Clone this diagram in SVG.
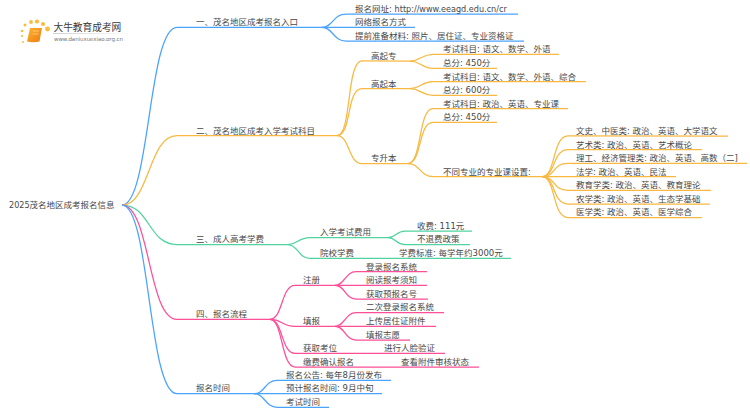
<svg xmlns="http://www.w3.org/2000/svg" width="750" height="410" viewBox="0 0 750 410">
<defs>
<linearGradient id="fade" x1="0" x2="1" y1="0" y2="0"><stop offset="0" stop-color="#cfcfcf"/><stop offset="1" stop-color="#ffffff"/></linearGradient>
<linearGradient id="book" x1="0" x2="1" y1="0" y2="1"><stop offset="0" stop-color="#fdb62f"/><stop offset="1" stop-color="#ec7a12"/></linearGradient>
</defs>
<style>
text{font-family:"DejaVu Sans","Noto Sans CJK SC",sans-serif;font-size:8.5px;fill:#484848}
tspan{font-size:8.1px}
path{fill:none;stroke-width:1.25}
.b{stroke:#4aa3ff}.o{stroke:#f9b840}.g{stroke:#4fd3a0}.p{stroke:#ff4f97}
.dot{fill:#fbbb3c}
</style>
<rect width="750" height="410" fill="#fff"/>
<g id="logo">
<circle class="dot" cx="22" cy="31" r="1.300"/><circle class="dot" cx="22" cy="36" r="1.100"/><circle class="dot" cx="23" cy="42" r="1"/>
<circle class="dot" cx="25" cy="25" r="1.500"/><circle class="dot" cx="31" cy="22" r="1.900"/><circle class="dot" cx="37" cy="21.500" r="2.100"/><circle class="dot" cx="43" cy="24" r="2.100"/><circle class="dot" cx="47.500" cy="29" r="2.400"/>
<path d="M30 28H42L39.500 41.500Q33 43 27 41.500Z" style="fill:url(#book);stroke:none"/>
<path d="M33 31H39M32.500 34H38.500" style="stroke:#ffe3a8;stroke-width:.6"/>
<rect x="53" y="33" width="80" height="1" fill="url(#fade)"/>
<text x="53.500" y="30.500" style="font-size:9.700px;fill:#3a3a3a">大牛教育成考网</text>
<text x="54" y="41" style="font-size:5.500px;fill:#777" textLength="69">www.daniuxuexiao.org.cn</text>
</g>
<g id="connectors">
<path class="b" d="M122 205C150 205 148 27.300 177 27.300H322"/>
<path class="b" d="M322 27.300C333 27.300 333 14 346 14H518"/>
<path class="b" d="M322 27.300H415"/>
<path class="b" d="M322 27.300C333 27.300 333 41 346 41H524"/>
<path class="o" d="M122 205C150 205 148 135.700 177 135.700H337"/>
<path class="o" d="M337 135.700C352 135.700 346 61 362 61H410"/>
<path class="o" d="M337 135.700C352 135.700 346 88.700 362 88.700H410"/>
<path class="o" d="M337 135.700C350 135.700 348 163.500 362 163.500H408"/>
<path class="o" d="M410 61C421 61 421 54.300 433 54.300H559"/>
<path class="o" d="M410 61C421 61 421 68.300 433 68.300H497"/>
<path class="o" d="M410 88.700C421 88.700 421 81.700 433 81.700H586"/>
<path class="o" d="M410 88.700C421 88.700 421 95.300 433 95.300H497"/>
<path class="o" d="M408 163.500C422 163.500 418 108.700 433 108.700H568"/>
<path class="o" d="M408 163.500C422 163.500 418 122.300 433 122.300H497"/>
<path class="o" d="M408 163.500C420 163.500 420 176.700 433 176.700H542"/>
<path class="o" d="M542 176.700C556 176.700 552 136 568 136H728"/>
<path class="o" d="M542 176.700C556 176.700 552 149.700 568 149.700H702"/>
<path class="o" d="M542 176.700C556 176.700 552 163.300 568 163.300H747"/>
<path class="o" d="M542 176.700H676"/>
<path class="o" d="M542 176.700C556 176.700 552 190.300 568 190.300H711"/>
<path class="o" d="M542 176.700C556 176.700 552 204 568 204H710"/>
<path class="o" d="M542 176.700C556 176.700 552 217.500 568 217.500H702"/>
<path class="g" d="M122 205C150 205 148 244.500 177 244.500H288"/>
<path class="g" d="M288 244.500C298 244.500 298 237.700 310 237.700H388"/>
<path class="g" d="M288 244.500C298 244.500 298 258.300 310 258.300H511"/>
<path class="g" d="M388 237.700C396 237.700 396 231 405 231H472"/>
<path class="g" d="M388 237.700C396 237.700 396 244.700 405 244.700H470"/>
<path class="p" d="M122 205C150 205 148 319.300 177 319.300H270"/>
<path class="p" d="M270 319.300C283 319.300 281 285.300 295 285.300H335"/>
<path class="p" d="M270 319.300C283 319.300 281 326.300 295 326.300H335"/>
<path class="p" d="M270 319.300C283 319.300 281 353.300 295 353.300H445"/>
<path class="p" d="M270 319.300C283 319.300 281 367 295 367H479"/>
<path class="p" d="M335 285.300C345 285.300 345 271.700 356 271.700H427"/>
<path class="p" d="M335 285.300H427"/>
<path class="p" d="M335 285.300C345 285.300 345 299 356 299H428"/>
<path class="p" d="M335 326.300C345 326.300 345 312.700 356 312.700H444"/>
<path class="p" d="M335 326.300H436"/>
<path class="p" d="M335 326.300C345 326.300 345 340 356 340H410"/>
<path class="b" d="M122 205C150 205 148 393.700 177 393.700H254"/>
<path class="b" d="M254 393.700C265 393.700 265 380.300 277 380.300H391"/>
<path class="b" d="M254 393.700H382"/>
<path class="b" d="M254 393.700C265 393.700 265 407.300 277 407.300H329"/>
</g>
<g id="root"><text x="9" y="208"><tspan>2025</tspan>茂名地区成考报名信息</text></g>
<g id="n1"><text x="196" y="25">一、茂名地区成考报名入口</text></g>
<g id="n1-1"><text x="355" y="11.500">报名网址: <tspan>http://www.eeagd.edu.cn/cr</tspan></text></g>
<g id="n1-2"><text x="355" y="25">网络报名方式</text></g>
<g id="n1-3"><text x="355" y="38.500">提前准备材料: 照片、居住证、专业资格证</text></g>
<g id="n2"><text x="196" y="133.500">二、茂名地区成考入学考试科目</text></g>
<g id="n2-1"><text x="371" y="59">高起专</text></g>
<g id="n2-1-1"><text x="443" y="52">考试科目: 语文、数学、外语</text></g>
<g id="n2-1-2"><text x="443" y="66">总分: 450分</text></g>
<g id="n2-2"><text x="371" y="86.500">高起本</text></g>
<g id="n2-2-1"><text x="443" y="79.500">考试科目: 语文、数学、外语、综合</text></g>
<g id="n2-2-2"><text x="443" y="93">总分: 600分</text></g>
<g id="n2-3"><text x="371" y="161">专升本</text></g>
<g id="n2-3-1"><text x="443" y="106.500">考试科目: 政治、英语、专业课</text></g>
<g id="n2-3-2"><text x="443" y="120">总分: 450分</text></g>
<g id="n2-3-3"><text x="443" y="174.500">不同专业的专业课设置:</text></g>
<g id="n2-3-3-1"><text x="576" y="133.500">文史、中医类: 政治、英语、大学语文</text></g>
<g id="n2-3-3-2"><text x="576" y="147.500">艺术类: 政治、英语、艺术概论</text></g>
<g id="n2-3-3-3"><text x="576" y="161">理工、经济管理类: 政治、英语、高数（二]</text></g>
<g id="n2-3-3-4"><text x="576" y="174.500">法学: 政治、英语、民法</text></g>
<g id="n2-3-3-5"><text x="576" y="188">教育学类: 政治、英语、教育理论</text></g>
<g id="n2-3-3-6"><text x="576" y="201.500">农学类: 政治、英语、生态学基础</text></g>
<g id="n2-3-3-7"><text x="576" y="215">医学类: 政治、英语、医学综合</text></g>
<g id="n3"><text x="196" y="242">三、成人高考学费</text></g>
<g id="n3-1"><text x="320" y="235">入学考试费用</text></g>
<g id="n3-1-1"><text x="417" y="228.500">收费: 111元</text></g>
<g id="n3-1-2"><text x="417" y="242">不退费政策</text></g>
<g id="n3-2"><text x="320" y="256">院校学费</text></g>
<g id="n3-2-1"><text x="399" y="256">学费标准: 每学年约3000元</text></g>
<g id="n4"><text x="196" y="317">四、报名流程</text></g>
<g id="n4-1"><text x="303" y="283">注册</text></g>
<g id="n4-1-1"><text x="366" y="269.500">登录报名系统</text></g>
<g id="n4-1-2"><text x="366" y="283">阅读报考须知</text></g>
<g id="n4-1-3"><text x="366" y="296.500">获取预报名号</text></g>
<g id="n4-2"><text x="303" y="324">填报</text></g>
<g id="n4-2-1"><text x="366" y="310">二次登录报名系统</text></g>
<g id="n4-2-2"><text x="366" y="324">上传居住证附件</text></g>
<g id="n4-2-3"><text x="366" y="337.500">填报志愿</text></g>
<g id="n4-3"><text x="303" y="351">获取考位</text></g>
<g id="n4-3-1"><text x="384" y="351">进行人脸验证</text></g>
<g id="n4-4"><text x="303" y="364.500">缴费确认报名</text></g>
<g id="n4-4-1"><text x="401" y="364.500">查看附件审核状态</text></g>
<g id="n5"><text x="196" y="391">报名时间</text></g>
<g id="n5-1"><text x="286" y="378">报名公告: 每年8月份发布</text></g>
<g id="n5-2"><text x="286" y="391">预计报名时间: 9月中旬</text></g>
<g id="n5-3"><text x="286" y="405">考试时间</text></g>
</svg>
